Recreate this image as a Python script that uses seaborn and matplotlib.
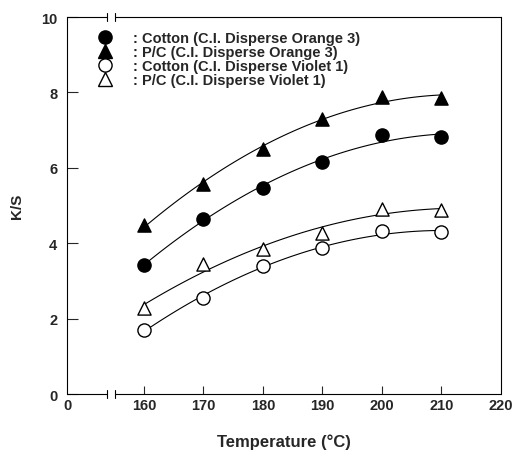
import numpy as np
import seaborn as sns
import matplotlib
matplotlib.use('Agg')
import matplotlib.pyplot as plt
from matplotlib.lines import Line2D

sns.set_style('ticks')
plt.rcParams['font.family'] = ['Liberation Sans', 'DejaVu Sans']
plt.rcParams['font.weight'] = 'bold'
plt.rcParams['axes.labelweight'] = 'bold'

# data
temps = [160, 170, 180, 190, 200, 210]
cotton_orange = [3.43, 4.63, 5.47, 6.15, 6.86, 6.82]
pc_orange = [4.47, 5.58, 6.50, 7.30, 7.88, 7.85]
cotton_violet = [1.70, 2.54, 3.39, 3.87, 4.32, 4.29]
pc_violet = [2.28, 3.45, 3.85, 4.27, 4.91, 4.89]

labels = [': Cotton (C.I. Disperse Orange 3)',
          ': P/C (C.I. Disperse Orange 3)',
          ': Cotton (C.I. Disperse Violet 1)',
          ': P/C (C.I. Disperse Violet 1)']
x_ticks = [0, 160, 170, 180, 190, 200, 210, 220]
y_ticks = [0, 2, 4, 6, 8, 10]

series = [
    (cotton_orange, 'o', 'black'),
    (pc_orange, '^', 'black'),
    (cotton_violet, 'o', 'white'),
    (pc_violet, '^', 'white'),
]

# broken x axis: 0..160 squeezed into a short stretch
K = 12.92 / 160


def fwd(t):
    t = np.asarray(t, dtype=float)
    return np.where(t >= 160, t, 160 - (160 - t) * K)


def inv(p):
    p = np.asarray(p, dtype=float)
    return np.where(p >= 160, p, 160 - (160 - p) / K)


fig = plt.figure(figsize=(5.29, 4.52), dpi=100)
ax = fig.add_axes([0.1267, 0.1261, 0.8203, 0.834])
ax.set_xscale('function', functions=(fwd, inv))

for vals, mk, fc in series:
    sns.regplot(x=np.array(temps), y=np.array(vals), order=2, ci=None, ax=ax,
                marker=mk,
                scatter_kws=dict(s=90, facecolors=fc, edgecolors='black',
                                 linewidths=1.0, zorder=3, alpha=1),
                line_kws=dict(color='black', lw=0.8, zorder=2))

ax.set_xlim(0, 220)
ax.set_ylim(0, 10)
ax.set_xticks(x_ticks)
ax.set_xticklabels([str(t) for t in x_ticks])
ax.set_yticks(y_ticks)
ax.set_yticklabels([str(v) for v in y_ticks])
ax.tick_params(axis='x', direction='in', length=6, width=0.8, pad=3,
               labelsize=10.5, top=False)
ax.tick_params(axis='y', direction='in', length=8, width=0.8, pad=7,
               labelsize=10.5, right=False)
for t in (ax.xaxis.get_major_ticks()[0], ax.xaxis.get_major_ticks()[-1]):
    t.tick1line.set_visible(False)
for lab in ax.get_xticklabels() + ax.get_yticklabels():
    lab.set_fontweight('bold')

ax.set_xlabel('Temperature (°C)', fontsize=12, fontweight='bold')
ax.set_ylabel('K/S', fontsize=11, fontweight='bold')
ax.xaxis.set_label_coords(0.5, -0.104)
ax.yaxis.set_label_coords(-0.098, 0.5)

# spines with the break marks
for side in ('top', 'bottom'):
    ax.spines[side].set_visible(False)
for side in ('left', 'right'):
    ax.spines[side].set_linewidth(0.8)
    ax.spines[side].set_color('black')
tr = ax.get_xaxis_transform()
for yy in (0, 1):
    ax.plot([0, 83], [yy, yy], color='black', lw=0.8, transform=tr, clip_on=False)
    ax.plot([100, 220], [yy, yy], color='black', lw=0.8, transform=tr, clip_on=False)
    for xb in (83, 100):
        ax.plot([xb, xb], [yy - 0.011, yy + 0.011], color='black', lw=0.8,
                transform=tr, clip_on=False)

handles = [Line2D([], [], ls='none', marker=mk, markersize=9.5,
                  markerfacecolor=fc, markeredgecolor='black', markeredgewidth=1.0)
           for _, mk, fc in series]
ax.legend(handles, labels, loc='upper left', bbox_to_anchor=(0.067, 0.962),
          frameon=False, handlelength=1.2, handletextpad=1.35,
          labelspacing=0.0, borderpad=0, borderaxespad=0,
          prop=dict(weight='bold', size=10.5))

fig.savefig('out.png', dpi=100)
